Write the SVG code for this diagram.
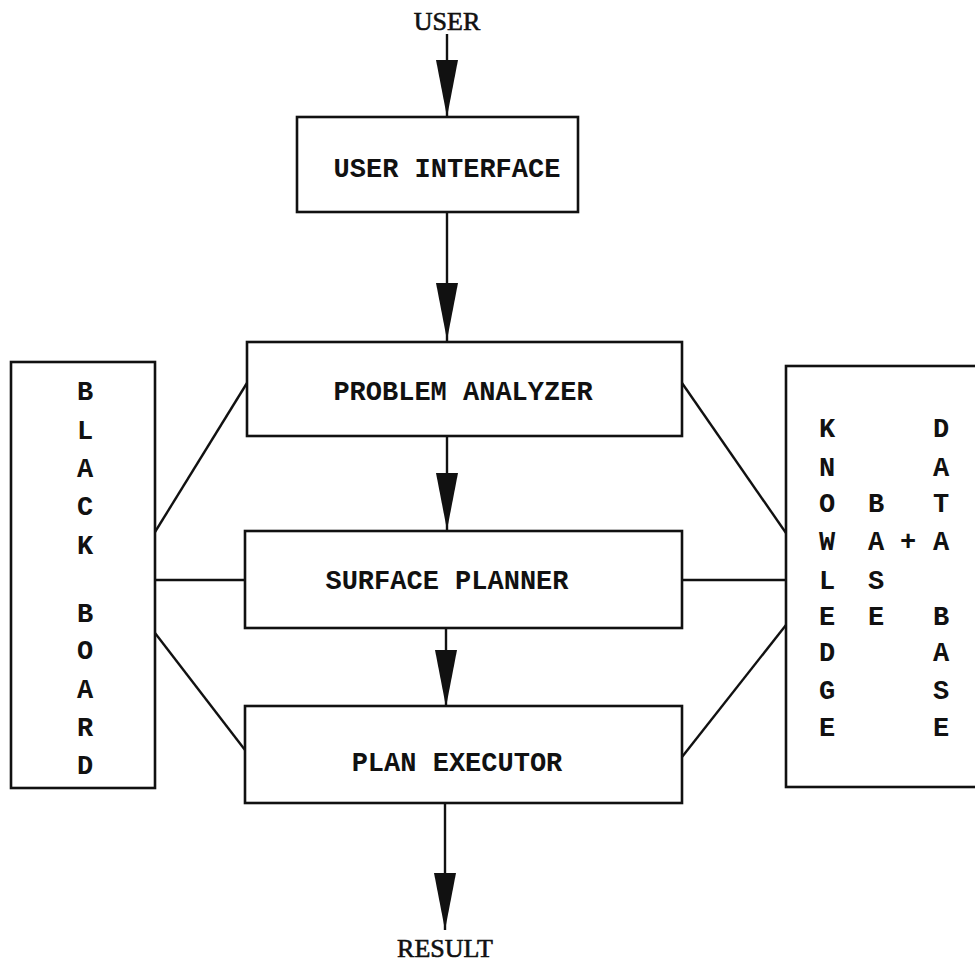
<svg xmlns="http://www.w3.org/2000/svg" width="975" height="962" viewBox="0 0 975 962">
<style>
.box{fill:#fff;stroke:#111;stroke-width:2.6}
.ln{stroke:#111;stroke-width:2.4;fill:none}
.t{font-family:"Liberation Mono","DejaVu Sans Mono",monospace;font-size:27px;font-weight:bold;fill:#111;text-anchor:middle}
.s{font-family:"Liberation Serif","Times New Roman",serif;font-size:26px;fill:#111;stroke:#111;stroke-width:0.6;text-anchor:middle}
</style>
<defs>
<path id="ah" d="M-11,-57 L11,-57 L0,0 Z" fill="#111"/>
</defs>
<rect width="975" height="962" fill="#fff"/>
<g id="connectors">
<line class="ln" x1="447" y1="34" x2="447" y2="117"/>
<line class="ln" x1="447" y1="212" x2="447" y2="341"/>
<line class="ln" x1="447" y1="436" x2="447" y2="531"/>
<line class="ln" x1="446" y1="628" x2="446" y2="707"/>
<line class="ln" x1="445" y1="803" x2="445" y2="930"/>
<line class="ln" x1="155" y1="532" x2="247" y2="383"/>
<line class="ln" x1="155" y1="580" x2="245" y2="580"/>
<line class="ln" x1="155" y1="633" x2="245" y2="750"/>
<line class="ln" x1="682" y1="383" x2="786" y2="533"/>
<line class="ln" x1="682" y1="580" x2="786" y2="580"/>
<line class="ln" x1="682" y1="757" x2="786" y2="625"/>
<use href="#ah" x="447" y="117"/>
<use href="#ah" x="447" y="340"/>
<use href="#ah" x="447" y="530"/>
<use href="#ah" x="446" y="707"/>
<use href="#ah" x="445" y="930"/>
</g>
<g id="user"><text class="s" x="447" y="30">USER</text></g>
<g id="result"><text class="s" x="445" y="957">RESULT</text></g>
<g id="user-interface">
<rect class="box" x="297" y="117" width="281" height="95"/>
<text class="t" x="447" y="177">USER INTERFACE</text>
</g>
<g id="problem-analyzer">
<rect class="box" x="247" y="342" width="435" height="94"/>
<text class="t" x="463" y="400">PROBLEM ANALYZER</text>
</g>
<g id="surface-planner">
<rect class="box" x="245" y="531" width="437" height="97"/>
<text class="t" x="447" y="589">SURFACE PLANNER</text>
</g>
<g id="plan-executor">
<rect class="box" x="245" y="706" width="437" height="97"/>
<text class="t" x="457" y="771">PLAN EXECUTOR</text>
</g>
<g id="blackboard">
<rect class="box" x="11" y="362" width="144" height="426"/>
<text class="t" x="85" y="400">B</text>
<text class="t" x="85" y="439">L</text>
<text class="t" x="85" y="477">A</text>
<text class="t" x="85" y="515">C</text>
<text class="t" x="85" y="554">K</text>
<text class="t" x="85" y="622">B</text>
<text class="t" x="85" y="659">O</text>
<text class="t" x="85" y="698">A</text>
<text class="t" x="85" y="736">R</text>
<text class="t" x="85" y="774">D</text>
</g>
<g id="knowledge-data-base">
<rect class="box" x="786" y="366" width="200" height="421"/>
<text class="t" x="827" y="437">K</text>
<text class="t" x="827" y="476">N</text>
<text class="t" x="827" y="512">O</text>
<text class="t" x="827" y="550">W</text>
<text class="t" x="827" y="589">L</text>
<text class="t" x="827" y="625">E</text>
<text class="t" x="827" y="661">D</text>
<text class="t" x="827" y="699">G</text>
<text class="t" x="827" y="736">E</text>
<text class="t" x="876" y="512">B</text>
<text class="t" x="876" y="550">A</text>
<text class="t" x="876" y="589">S</text>
<text class="t" x="876" y="625">E</text>
<text class="t" x="908" y="550">+</text>
<text class="t" x="941" y="437">D</text>
<text class="t" x="941" y="476">A</text>
<text class="t" x="941" y="512">T</text>
<text class="t" x="941" y="550">A</text>
<text class="t" x="941" y="625">B</text>
<text class="t" x="941" y="661">A</text>
<text class="t" x="941" y="699">S</text>
<text class="t" x="941" y="736">E</text>
</g>
</svg>
